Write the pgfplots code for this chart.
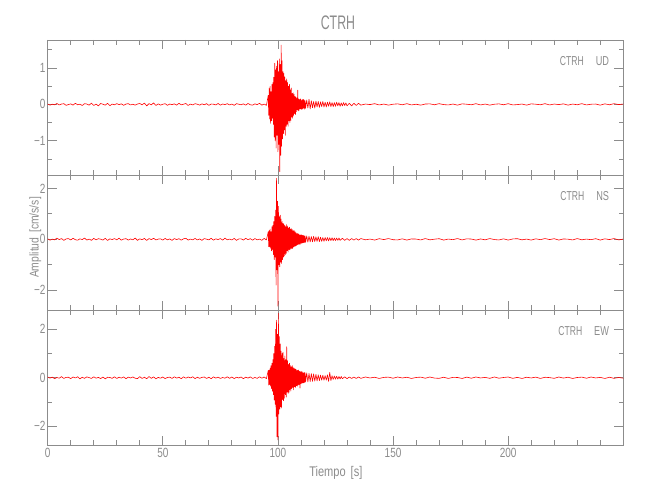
\documentclass[border=0pt]{standalone}
\usepackage{fontspec}
\setmainfont{Liberation Sans}
\usepackage{graphicx}
\usepackage{pgfplots}
\pgfplotsset{compat=1.18}
\definecolor{axgray}{rgb}{0.55,0.55,0.55}
\definecolor{trace}{rgb}{1,0,0}
\newcommand\sx[1]{\scalebox{0.75}[1]{#1}}
\newcommand\lab[2]{\scalebox{0.665}[1]{CTRH}\hspace{9pt}\scalebox{0.71}[1]{#2}}
\pgfplotsset{
  tr/.style={color=trace, line width=0.45pt, line join=round, mark=none, solid},
  seis/.style={
    scale only axis, width=431.7pt, height=101.25pt,
    anchor=south west,
    xmin=0, xmax=250,
    xtick={0,50,100,150,200},
    minor xtick={10,20,30,40,60,70,80,90,110,120,130,140,160,170,180,190,210,220,230,240},
    tick align=inside, xtick pos=both, ytick pos=both,
    major tick length=7pt, minor tick length=3.5pt,
    axis line style={axgray, line width=0.6pt},
    every tick/.style={axgray, line width=0.6pt},
    ticklabel style={font=\fontsize{10}{12}\selectfont, text=axgray, inner sep=0pt},
    xticklabel style={yshift=-2pt},
    yticklabel style={xshift=-1.5pt},
    clip=false,
  }
}
\begin{document}
\begin{tikzpicture}
\useasboundingbox (-35.78pt,-41.25pt) rectangle (451.73pt,333.75pt);
% ---------------- UD ----------------
\begin{axis}[seis, at={(0pt,202.5pt)}, ymin=-1.94, ymax=1.77,
  ytick={-1,0,1}, yticklabels={\sx{−1},\sx{0},\sx{1}},
  minor ytick={-1.5,-0.5,0.5,1.5}, xticklabels={}]
\addplot[tr] coordinates {
(0,0.01)(1,-0.02)(2,0.005)(3,-0.01)(4,0.025)(5,-0.015)(6,0.01)(7,0.02)(8,-0.025)(9,-0.005)
(10,0.015)(11,-0.02)(12,0.03)(13,-0.01)(14,0.005)(15,-0.03)(16,0.02)(17,0.01)(18,-0.02)(19,0.035)
(20,-0.03)(21,0.01)(22,-0.04)(23,0.025)(24,0.005)(25,-0.02)(26,0.03)(27,-0.035)(28,0.01)(29,-0.01)
(30,0.02)(31,-0.005)(32,0.015)(33,-0.025)(34,0.01)(35,0.02)(36,-0.015)(37,0.005)(38,-0.02)(39,0.01)
(40,0.025)(41,-0.01)(42,0.035)(43,-0.04)(44,0.02)(45,-0.01)(46,0.04)(47,-0.03)(48,0.015)(49,-0.02)
(50,0.005)(51,0.02)(52,-0.025)(53,0.01)(54,-0.005)(55,0.015)(56,-0.02)(57,0.03)(58,-0.01)(59,0.005)
(60,0.025)(61,-0.03)(62,0.01)(63,-0.015)(64,0.02)(65,0.005)(66,-0.02)(67,0.015)(68,-0.01)(69,0.02)
(70,-0.025)(71,0.01)(72,0.005)(73,-0.015)(74,0.025)(75,-0.02)(76,0.01)(77,-0.005)(78,0.02)(79,-0.015)
(80,0.01)(81,-0.025)(82,0.02)(83,0.005)(84,-0.01)(85,0.015)(86,-0.02)(87,0.025)(88,-0.01)(89,-0.02)
(90,0.015)(91,-0.005)(92,0.03)(93,-0.02)(94,0.01)(95,-0.025)
(95.8,0.25)(96.0,-0.3)(96.2,0.45)(96.4,-0.4)(96.6,0.5)(96.8,-0.52)(97.0,0.35)(97.2,-0.45)(97.4,0.55)(97.6,-0.38)
(97.8,0.6)(98.0,-0.55)(98.2,0.75)(98.4,-0.9)(98.6,1.13)(98.8,-1.0)(99.0,0.95)(99.2,-1.2)(99.4,1.05)(99.6,-0.85)
(99.8,1.2)(100.0,-1.3)(100.2,0.9)(100.4,-1.1)(100.6,1.25)(100.8,-1.85)(101.0,1.1)(101.2,-1.4)(101.4,1.63)(101.6,-1.15)
(101.8,1.2)(102.0,-0.95)(102.2,0.9)(102.4,-0.8)(102.6,0.85)(102.8,-0.7)(103.0,0.75)(103.2,-0.85)(103.4,0.65)(103.6,-0.6)
(103.8,0.7)(104.0,-0.55)(104.2,0.6)(104.4,-0.6)(104.6,0.5)(104.8,-0.45)(105.0,0.55)(105.2,-0.5)(105.4,0.4)(105.6,-0.45)
(105.8,0.45)(106.0,-0.35)(106.2,0.3)(106.4,-0.38)(106.6,0.32)(106.8,-0.3)(107.0,0.28)(107.2,-0.25)(107.4,0.22)(107.6,-0.28)
(107.8,0.2)(108.0,-0.2)(108.2,0.18)(108.4,-0.15)(108.6,0.39)(108.8,-0.18)(109.0,0.15)(109.2,-0.16)(109.4,0.14)(109.6,-0.12)
(109.8,0.15)(110.0,-0.13)(110.2,0.12)(110.4,-0.14)(110.6,0.13)(110.8,-0.12)(111.0,0.14)(111.2,-0.1)(111.4,0.12)(111.6,-0.13)
(111.8,0.1)(112.0,-0.11)
(112.5,0.12)(113,-0.1)(113.5,0.14)(114,-0.12)(114.5,0.1)(115,-0.09)(115.5,0.08)(116,-0.1)(116.5,0.09)(117,-0.07)
(117.5,0.08)(118,-0.08)(118.5,0.07)(119,-0.06)(119.5,0.08)(120,-0.07)(120.5,0.06)(121,-0.07)(121.5,0.06)(122,-0.05)
(122.5,0.07)(123,-0.06)(123.5,0.05)(124,-0.06)(124.5,0.05)(125,-0.05)(125.5,0.06)(126,-0.04)(126.5,0.05)(127,-0.05)
(127.5,0.04)(128,-0.04)(128.5,0.05)(129,-0.03)(129.5,0.04)(130,-0.04)(131,0.03)(132,-0.04)(133,0.03)(134,-0.03)(135,0.03)
(136,-0.02)(138,0.01)(140,-0.005)(142,0.02)(144,-0.015)(146,0.01)(148,-0.02)(150,0.005)(152,0.015)(154,-0.01)
(156,0.02)(158,-0.015)(160,0.005)(162,-0.02)(164,0.01)(166,0.015)(168,-0.01)(170,0.02)(172,-0.005)(174,-0.015)
(176,0.01)(178,-0.02)(180,0.015)(182,0.005)(184,-0.01)(186,0.02)(188,-0.015)(190,0.01)(192,-0.02)(194,0.005)
(196,0.015)(198,-0.01)(200,0.02)(202,-0.015)(204,-0.005)(206,0.01)(208,-0.02)(210,0.015)(212,0.005)(214,-0.01)
(216,0.02)(218,-0.015)(220,0.01)(222,-0.005)(224,0.015)(226,-0.02)(228,0.01)(230,-0.01)(232,0.02)(234,-0.015)
(236,0.005)(238,0.01)(240,-0.02)(242,0.015)(244,-0.01)(246,0.02)(248,-0.005)(250,0.01)
};
\node[anchor=base east, font=\fontsize{9.7}{11}\selectfont, text=axgray, inner sep=0pt, xshift=-10.5pt, yshift=-19.5pt] at (rel axis cs:1,1) {\lab{CTRH}{UD}};
\end{axis}
% ---------------- NS ----------------
\begin{axis}[seis, at={(0pt,101.25pt)}, ymin=-2.78, ymax=2.53,
  ytick={-2,0,2}, yticklabels={\sx{−2},\sx{0},\sx{2}},
  minor ytick={-1,1}, xticklabels={}]
\addplot[tr] coordinates {
(0,0.02)(1,-0.035)(2,0.01)(3,-0.02)(4,0.045)(5,-0.01)(6,0.03)(7,-0.04)(8,0.015)(9,0.03)
(10,-0.025)(11,0.04)(12,-0.015)(13,-0.035)(14,0.02)(15,-0.01)(16,0.05)(17,-0.03)(18,0.01)(19,-0.04)
(20,0.035)(21,-0.02)(22,0.025)(23,0.005)(24,-0.03)(25,0.04)(26,-0.045)(27,0.02)(28,-0.01)(29,0.03)
(30,-0.02)(31,0.045)(32,-0.035)(33,0.01)(34,0.025)(35,-0.03)(36,0.015)(37,-0.02)(38,0.05)(39,-0.04)
(40,0.02)(41,-0.015)(42,0.035)(43,-0.045)(44,0.03)(45,-0.01)(46,0.04)(47,-0.025)(48,0.01)(49,0.02)
(50,-0.03)(51,0.035)(52,-0.02)(53,0.015)(54,-0.04)(55,0.03)(56,-0.01)(57,0.025)(58,-0.035)(59,0.02)
(60,0.04)(61,-0.03)(62,0.01)(63,-0.02)(64,0.035)(65,-0.025)(66,0.015)(67,-0.04)(68,0.03)(69,0.005)
(70,-0.02)(71,0.04)(72,-0.035)(73,0.02)(74,-0.01)(75,0.03)(76,-0.03)(77,0.045)(78,-0.02)(79,0.01)
(80,-0.025)(81,0.035)(82,-0.04)(83,0.015)(84,0.02)(85,-0.03)(86,0.04)(87,-0.015)(88,0.025)(89,-0.035)
(90,0.03)(91,-0.02)(92,0.01)(93,-0.04)(94,0.035)(95,-0.025)
(95.8,0.3)(96.0,-0.29)(96.2,0.35)(96.4,-0.3)(96.6,0.4)(96.8,-0.35)(97.0,0.3)(97.2,-0.45)(97.4,0.5)(97.6,-0.4)
(97.8,0.55)(98.0,-0.6)(98.2,0.7)(98.4,-0.8)(98.6,0.9)(98.8,-0.7)(99.0,1.15)(99.2,-1.8)(99.4,2.40)(99.6,-1.2)
(99.8,1.5)(100.0,-2.63)(100.2,1.3)(100.4,-1.0)(100.6,0.89)(100.8,-1.08)(101.0,0.95)(101.2,-0.9)(101.4,0.8)(101.6,-0.95)
(101.8,0.7)(102.0,-0.8)(102.2,0.63)(102.4,-0.7)(102.6,0.6)(102.8,-0.65)(103.0,0.55)(103.2,-0.6)(103.4,0.5)(103.6,-0.55)
(103.8,0.58)(104.0,-0.45)(104.2,0.5)(104.4,-0.5)(104.6,0.45)(104.8,-0.4)(105.0,0.48)(105.2,-0.42)(105.4,0.4)(105.6,-0.38)
(105.8,0.42)(106.0,-0.35)(106.2,0.38)(106.4,-0.36)(106.6,0.33)(106.8,-0.3)(107.0,0.35)(107.2,-0.28)(107.4,0.3)(107.6,-0.27)
(107.8,0.26)(108.0,-0.25)(108.2,0.24)(108.4,-0.22)(108.6,0.22)(108.8,-0.2)(109.0,0.21)(109.2,-0.19)(109.4,0.18)(109.6,-0.2)
(109.8,0.17)(110.0,-0.16)(110.2,0.18)(110.4,-0.15)(110.6,0.16)(110.8,-0.14)(111.0,0.15)(111.2,-0.13)(111.4,0.14)(111.6,-0.12)
(111.8,0.13)(112.0,-0.12)
(112.5,0.13)(113,-0.11)(113.5,0.12)(114,-0.1)(114.5,0.11)(115,-0.1)(115.5,0.12)(116,-0.09)(116.5,0.1)(117,-0.08)
(117.5,0.1)(118,-0.09)(118.5,0.08)(119,-0.08)(119.5,0.07)(120,-0.08)(120.5,0.07)(121,-0.06)(121.5,0.07)(122,-0.06)
(122.5,0.06)(123,-0.05)(123.5,0.06)(124,-0.05)(124.5,0.05)(125,-0.05)(125.5,0.05)(126,-0.04)(126.5,0.05)(127,-0.04)
(128,0.04)(129,-0.04)(130,0.03)(131,-0.04)(132,0.03)(133,-0.03)(134,0.03)(135,-0.03)
(136,0.03)(138,-0.02)(140,0.01)(142,-0.03)(144,0.025)(146,-0.01)(148,0.03)(150,-0.015)(152,-0.025)(154,0.02)
(156,-0.03)(158,0.015)(160,0.01)(162,-0.025)(164,0.03)(166,-0.02)(168,0.005)(170,0.025)(172,-0.03)(174,0.01)
(176,-0.015)(178,0.03)(180,-0.025)(182,0.02)(184,0.01)(186,-0.03)(188,0.015)(190,-0.02)(192,0.03)(194,-0.01)
(196,-0.025)(198,0.02)(200,-0.03)(202,0.015)(204,0.025)(206,-0.02)(208,0.01)(210,-0.03)(212,0.02)(214,-0.015)
(216,0.03)(218,-0.01)(220,0.025)(222,-0.03)(224,0.015)(226,0.005)(228,-0.025)(230,0.03)(232,-0.02)(234,0.01)
(236,-0.015)(238,0.025)(240,-0.03)(242,0.02)(244,-0.01)(246,0.03)(248,-0.025)(250,0.01)
};
\node[anchor=base east, font=\fontsize{9.7}{11}\selectfont, text=axgray, inner sep=0pt, xshift=-10.5pt, yshift=-19.5pt] at (rel axis cs:1,1) {\lab{CTRH}{NS}};
\end{axis}
% ---------------- EW ----------------
\begin{axis}[seis, at={(0pt,0pt)}, ymin=-2.78, ymax=2.80,
  ytick={-2,0,2}, yticklabels={\sx{−2},\sx{0},\sx{2}},
  minor ytick={-1,1},
  xticklabels={\sx{0},\sx{50},\sx{100},\sx{150},\sx{200}}]
\addplot[tr] coordinates {
(0,0.03)(1,-0.015)(2,0.025)(3,-0.04)(4,0.01)(5,-0.02)(6,0.045)(7,-0.03)(8,0.015)(9,0.02)
(10,-0.035)(11,0.03)(12,-0.01)(13,0.04)(14,-0.045)(15,0.02)(16,-0.025)(17,0.035)(18,0.005)(19,-0.03)
(20,0.04)(21,-0.02)(22,0.015)(23,-0.035)(24,0.03)(25,-0.045)(26,0.02)(27,0.01)(28,-0.025)(29,0.04)
(30,-0.03)(31,0.02)(32,-0.015)(33,0.035)(34,-0.04)(35,0.025)(36,-0.01)(37,0.03)(38,-0.02)(39,-0.035)
(40,0.045)(41,-0.03)(42,0.02)(43,-0.04)(44,0.05)(45,-0.025)(46,0.035)(47,-0.045)(48,0.015)(49,-0.02)
(50,0.03)(51,-0.035)(52,0.01)(53,0.025)(54,-0.03)(55,0.04)(56,-0.015)(57,0.02)(58,-0.04)(59,0.035)
(60,-0.02)(61,0.03)(62,-0.01)(63,0.04)(64,-0.035)(65,0.02)(66,-0.025)(67,0.015)(68,0.03)(69,-0.03)
(70,0.02)(71,-0.04)(72,0.035)(73,-0.015)(74,0.025)(75,-0.03)(76,0.01)(77,-0.02)(78,0.04)(79,-0.025)
(80,0.03)(81,-0.035)(82,0.02)(83,-0.01)(84,0.03)(85,-0.04)(86,0.025)(87,-0.015)(88,0.035)(89,-0.03)
(90,0.01)(91,-0.025)(92,0.04)(93,-0.02)(94,0.03)(95,-0.035)
(95.8,0.3)(96.0,-0.3)(96.2,0.32)(96.4,-0.28)(96.6,0.4)(96.8,-0.35)(97.0,0.5)(97.2,-0.45)(97.4,0.6)(97.6,-0.55)
(97.8,0.75)(98.0,-0.7)(98.2,1.0)(98.4,-0.92)(98.6,1.3)(98.8,-1.1)(99.0,2.0)(99.2,-1.6)(99.4,2.38)(99.6,-2.44)
(99.8,1.8)(100.0,-2.57)(100.2,2.66)(100.4,-1.5)(100.6,1.7)(100.8,-1.3)(101.0,1.4)(101.2,-1.2)(101.4,1.1)(101.6,-1.25)
(101.8,1.0)(102.0,-0.9)(102.2,1.05)(102.4,-0.95)(102.6,0.8)(102.8,-0.85)(103.0,0.9)(103.2,-0.7)(103.4,0.75)(103.6,-0.8)
(103.8,1.28)(104.0,-0.6)(104.2,0.7)(104.4,-0.65)(104.6,0.55)(104.8,-0.6)(105.0,0.6)(105.2,-0.5)(105.4,0.5)(105.6,-0.55)
(105.8,0.45)(106.0,-0.45)(106.2,0.5)(106.4,-0.4)(106.6,0.42)(106.8,-0.5)(107.0,0.4)(107.2,-0.38)(107.4,0.36)(107.6,-0.4)
(107.8,0.35)(108.0,-0.33)(108.2,0.32)(108.4,-0.35)(108.6,0.3)(108.8,-0.3)(109.0,0.32)(109.2,-0.28)(109.4,0.26)(109.6,-0.43)
(109.8,0.25)(110.0,-0.25)(110.2,0.26)(110.4,-0.22)(110.6,0.24)(110.8,-0.22)(111.0,0.2)(111.2,-0.21)(111.4,0.22)(111.6,-0.19)
(111.8,0.2)(112.0,-0.18)
(112.5,0.2)(113,-0.17)(113.5,0.18)(114,-0.16)(114.5,0.17)(115,-0.15)(115.5,0.16)(116,-0.14)(116.5,0.14)(117,-0.13)
(117.5,0.12)(118,-0.12)(118.5,0.11)(119,-0.1)(119.5,0.1)(120,-0.1)(120.5,0.09)(121,-0.1)(121.5,0.12)(122,-0.15)
(122.5,0.22)(123,-0.12)(123.5,0.08)(124,-0.07)(124.5,0.07)(125,-0.06)(125.5,0.06)(126,-0.06)(126.5,0.05)(127,-0.05)
(127.5,0.05)(128,-0.04)(129,0.04)(130,-0.04)(131,0.03)(132,-0.03)(133,0.03)(134,-0.03)(135,0.03)
(136,-0.025)(138,0.03)(140,-0.01)(142,0.02)(144,-0.03)(146,0.015)(148,0.025)(150,-0.02)(152,0.03)(154,-0.01)
(156,0.02)(158,-0.03)(160,0.01)(162,0.025)(164,-0.02)(166,0.03)(168,-0.015)(170,-0.025)(172,0.02)(174,-0.03)
(176,0.015)(178,0.01)(180,-0.03)(182,0.025)(184,-0.02)(186,0.03)(188,-0.01)(190,0.015)(192,-0.025)(194,0.03)
(196,-0.02)(198,0.01)(200,0.03)(202,-0.025)(204,0.015)(206,-0.03)(208,0.02)(210,-0.01)(212,0.025)(214,-0.03)
(216,0.02)(218,0.005)(220,-0.025)(222,0.03)(224,-0.015)(226,0.02)(228,-0.03)(230,0.01)(232,0.025)(234,-0.02)
(236,0.03)(238,-0.01)(240,0.015)(242,-0.03)(244,0.02)(246,-0.025)(248,0.01)(250,-0.02)
};
\node[anchor=base east, font=\fontsize{9.7}{11}\selectfont, text=axgray, inner sep=0pt, xshift=-10.5pt, yshift=-19.5pt] at (rel axis cs:1,1) {\lab{CTRH}{EW}};
\end{axis}
% titles and labels
\node[anchor=base, font=\fontsize{14.7}{16}\selectfont, text=axgray, inner sep=0pt] at (217.7pt,311.25pt) {\scalebox{0.63}[1]{CTRH}};
\node[anchor=base, font=\fontsize{10.5}{12}\selectfont, text=axgray, inner sep=0pt] at (216.1pt,-23.8pt) {\scalebox{0.79}[1]{Tiempo\hspace{0.45em}[s]}};
\node[anchor=base, rotate=90, font=\fontsize{9.5}{11}\selectfont, text=axgray, inner sep=0pt] at (-6.9pt,155.6pt) {\scalebox{0.82}[1]{Amplitud\hspace{0.45em}[cm/s/s]}};
\end{tikzpicture}
\end{document}
